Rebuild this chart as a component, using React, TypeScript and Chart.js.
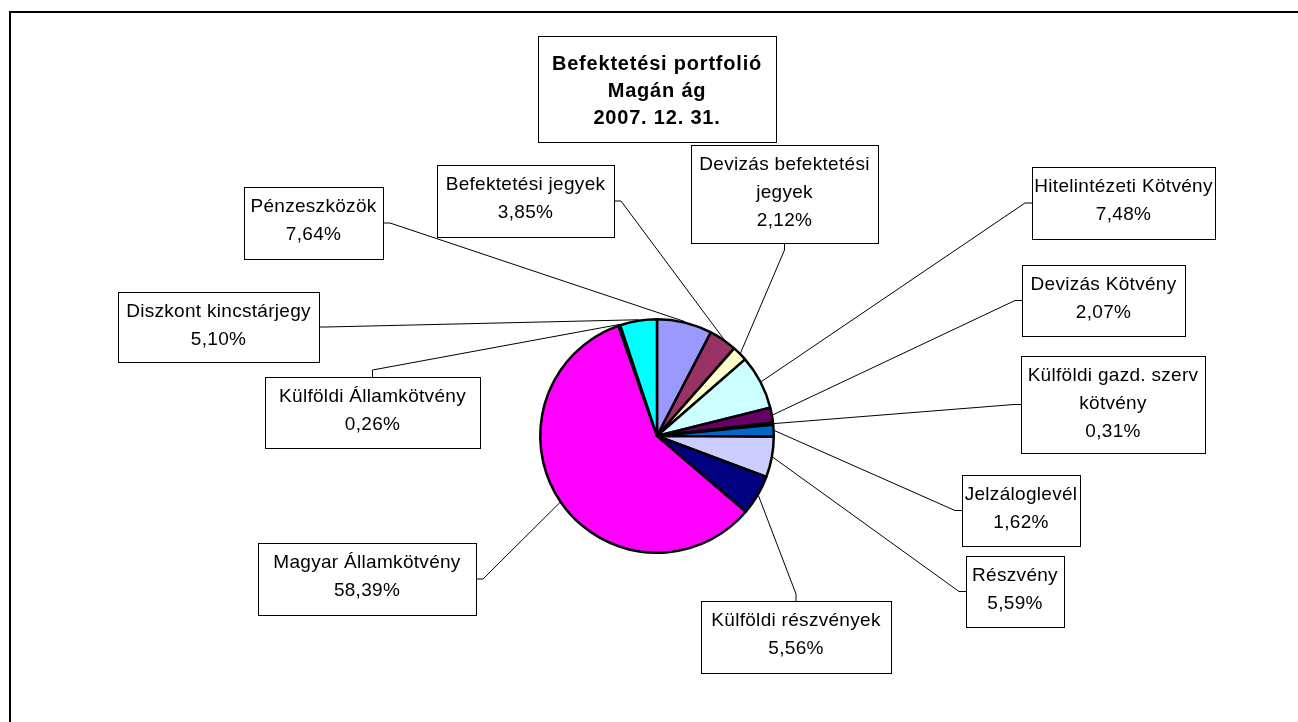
import React, { useEffect, useRef } from "react";
import { Chart, registerables } from "chart.js";

Chart.register(...registerables);

// ---- data ----
const categories = [
  "Pénzeszközök",
  "Befektetési jegyek",
  "Devizás befektetési jegyek",
  "Hitelintézeti Kötvény",
  "Devizás Kötvény",
  "Külföldi gazd. szerv kötvény",
  "Jelzáloglevél",
  "Részvény",
  "Külföldi részvények",
  "Magyar Államkötvény",
  "Külföldi Államkötvény",
  "Diszkont kincstárjegy",
];
const values = [7.64, 3.85, 2.12, 7.48, 2.07, 0.31, 1.62, 5.59, 5.56, 58.39, 0.26, 5.1];
const colors = [
  "#9999FF", "#993366", "#FFFFCC", "#CCFFFF", "#660066", "#FF8080",
  "#0066CC", "#CCCCFF", "#000080", "#FF00FF", "#FFFF00", "#00FFFF",
];
const titleLines = ["Befektetési portfolió", "Magán ág", "2007. 12. 31."];

// ---- layout (positions of the callout boxes) ----
type Side = "left" | "right" | "top" | "bottom";
const labelBoxes: { x: number; y: number; w: number; h: number; side: Side; wrap?: number }[] = [
  { x: 244, y: 187, w: 139, h: 72, side: "right" },
  { x: 437, y: 165, w: 177, h: 72, side: "right" },
  { x: 691, y: 145, w: 187, h: 98, side: "bottom", wrap: 185 },
  { x: 1032, y: 167, w: 183, h: 72, side: "left" },
  { x: 1022, y: 265, w: 163, h: 71, side: "left" },
  { x: 1021, y: 356, w: 184, h: 97, side: "left", wrap: 185 },
  { x: 962, y: 475, w: 118, h: 71, side: "left" },
  { x: 966, y: 556, w: 98, h: 71, side: "left" },
  { x: 701, y: 601, w: 190, h: 72, side: "top" },
  { x: 258, y: 543, w: 218, h: 72, side: "right" },
  { x: 265, y: 377, w: 215, h: 71, side: "top" },
  { x: 118, y: 292, w: 201, h: 70, side: "right" },
];
const titleBox = { x: 538, y: 36, w: 238, h: 106 };
const FONT = '"Liberation Sans", Arial, sans-serif';

const fmt = (v: number) => v.toFixed(2).replace(".", ",") + "%";

function wrapText(ctx: CanvasRenderingContext2D, text: string, max?: number): string[] {
  if (!max) return [text];
  const words = text.split(" ");
  const lines: string[] = [];
  let cur = "";
  for (const w of words) {
    const t = cur ? cur + " " + w : w;
    if (cur && ctx.measureText(t).width > max) {
      lines.push(cur);
      cur = w;
    } else cur = t;
  }
  if (cur) lines.push(cur);
  return lines;
}

const calloutPlugin = {
  id: "callouts",
  afterDraw(chart: any) {
    const ctx: CanvasRenderingContext2D = chart.ctx;
    ctx.save();
    // outer frame
    ctx.strokeStyle = "#000";
    ctx.lineWidth = 2;
    ctx.strokeRect(10, 12, 1320, 760);

    // title box
    ctx.lineWidth = 1;
    ctx.fillStyle = "#fff";
    ctx.fillRect(titleBox.x, titleBox.y, titleBox.w, titleBox.h);
    ctx.strokeStyle = "#000";
    ctx.strokeRect(titleBox.x + 0.5, titleBox.y + 0.5, titleBox.w, titleBox.h);
    ctx.fillStyle = "#000";
    ctx.textAlign = "center";
    ctx.textBaseline = "middle";
    ctx.font = `bold 20px ${FONT}`;
    (ctx as any).letterSpacing = "0.8px";
    titleLines.forEach((t, i) => {
      ctx.fillText(t, titleBox.x + titleBox.w / 2, titleBox.y + 28 + 27 * i);
    });

    const meta = chart.getDatasetMeta(0);
    ctx.font = `19px ${FONT}`;
    (ctx as any).letterSpacing = "0.3px";
    meta.data.forEach((arc: any, i: number) => {
      const b = labelBoxes[i];
      if (!b) return;
      const p = arc.getProps(["x", "y", "startAngle", "endAngle", "outerRadius"], true);
      const mid = (p.startAngle + p.endAngle) / 2;
      const r = p.outerRadius + 1;
      const px = p.x + Math.cos(mid) * r;
      const py = p.y + Math.sin(mid) * r;
      let ax = 0, ay = 0, sx = 0, sy = 0;
      const stub = 7;
      if (b.side === "right") { ax = b.x + b.w; ay = b.y + b.h / 2; sx = ax + stub; sy = ay; }
      if (b.side === "left") { ax = b.x; ay = b.y + b.h / 2; sx = ax - stub; sy = ay; }
      if (b.side === "top") { ax = b.x + b.w / 2; ay = b.y; sx = ax; sy = ay - stub; }
      if (b.side === "bottom") { ax = b.x + b.w / 2; ay = b.y + b.h; sx = ax; sy = ay + stub; }
      ctx.strokeStyle = "#000";
      ctx.lineWidth = 1;
      ctx.beginPath();
      ctx.moveTo(ax, ay);
      ctx.lineTo(sx, sy);
      ctx.lineTo(px, py);
      ctx.stroke();

      ctx.fillStyle = "#fff";
      ctx.fillRect(b.x, b.y, b.w, b.h);
      ctx.strokeStyle = "#000";
      ctx.strokeRect(b.x + 0.5, b.y + 0.5, b.w, b.h);
      ctx.fillStyle = "#000";
      const lines = [...wrapText(ctx, categories[i], b.wrap), fmt(values[i])];
      lines.forEach((t, k) => {
        ctx.fillText(t, b.x + b.w / 2, b.y + 20 + 28 * k);
      });
    });
    ctx.restore();
  },
};

export default function App() {
  const ref = useRef<HTMLCanvasElement | null>(null);
  useEffect(() => {
    if (!ref.current) return;
    const chart = new Chart(ref.current, {
      type: "pie",
      data: {
        labels: categories,
        datasets: [
          {
            data: values,
            backgroundColor: colors,
            borderColor: "#000",
            borderWidth: 2.5,
          },
        ],
      },
      options: {
        responsive: false,
        animation: false,
        devicePixelRatio: 1,
        layout: { padding: { left: 539, right: 523, top: 318, bottom: 168 } },
        plugins: {
          legend: { display: false },
          tooltip: { enabled: false },
          title: { display: false },
        },
      },
      plugins: [calloutPlugin],
    } as any);
    return () => chart.destroy();
  }, []);
  return (
    <div style={{ position: "fixed", left: 0, top: 0, width: 1298, height: 722, background: "#fff" }}>
      <canvas ref={ref} width={1298} height={722} style={{ display: "block" }} />
    </div>
  );
}
